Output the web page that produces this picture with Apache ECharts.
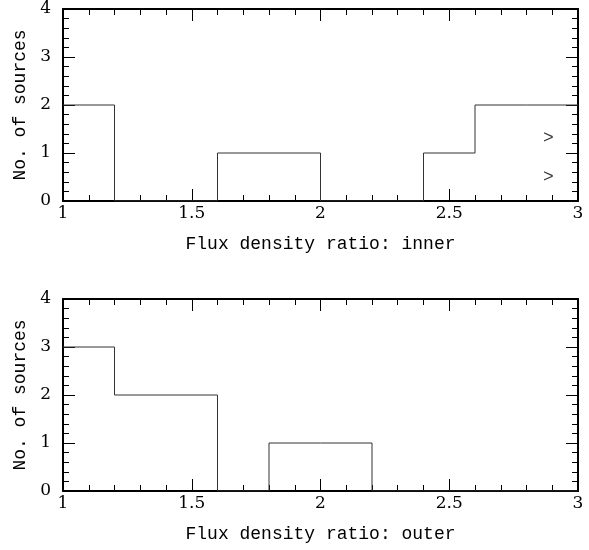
<!DOCTYPE html>
<html>
<head>
<meta charset="utf-8">
<script src="https://cdn.jsdelivr.net/npm/echarts@6/dist/echarts.min.js"></script>
<style>html,body{margin:0;padding:0;background:#fff}#c{width:589px;height:550px}</style>
</head>
<body>
<div id="c"></div>
<script>
// ---- data ----
const binEdges = [1.0, 1.2, 1.4, 1.6, 1.8, 2.0, 2.2, 2.4, 2.6, 2.8, 3.0];
const innerCounts = [2, 0, 0, 1, 1, 0, 0, 1, 2, 2];
const outerCounts = [3, 2, 2, 0, 1, 1, 0, 0, 0, 0];
const limitX = [2.885, 2.885];
const limitY = [1.30, 0.50];
const limitMark = '>';
const xTitles = ['Flux density ratio: inner', 'Flux density ratio: outer'];
const yTitle = 'No. of sources';

function stepData(counts) {
  const pts = counts.map((c, i) => [binEdges[i], c]);
  pts.push([binEdges[binEdges.length - 1], counts[counts.length - 1]]);
  return pts;
}

const tickFont = '"DejaVu Serif", serif';
const nameFont = '"Liberation Mono", monospace';
const black = '#000';

const grids = [
  { left: 63, top: 9, width: 515, height: 192 },
  { left: 63, top: 299, width: 515, height: 192 }
];

function xAx(gi, pos, showLabel, name) {
  return {
    type: 'value', gridIndex: gi, position: pos, min: 1, max: 3, interval: 0.5,
    axisLine: { show: true, onZero: false, lineStyle: { color: black, width: 2 } },
    axisTick: { show: true, inside: true, length: 12, lineStyle: { color: black, width: 1 } },
    minorTick: { show: true, splitNumber: 5, length: 6, lineStyle: { color: black, width: 1 } },
    splitLine: { show: false },
    axisLabel: { show: showLabel, margin: 4, color: black, fontFamily: tickFont, fontSize: 17 },
    name: name || '', nameLocation: 'middle', nameGap: 34,
    nameTextStyle: { color: black, fontFamily: nameFont, fontSize: 18 }
  };
}
function yAx(gi, pos, showLabel, name) {
  return {
    type: 'value', gridIndex: gi, position: pos, min: 0, max: 4, interval: 1,
    axisLine: { show: true, onZero: false, lineStyle: { color: black, width: 2 } },
    axisTick: { show: true, inside: true, length: 12, lineStyle: { color: black, width: 1 } },
    minorTick: { show: true, splitNumber: 5, length: 6, lineStyle: { color: black, width: 1 } },
    splitLine: { show: false },
    axisLabel: { show: showLabel, margin: 12, color: black, fontFamily: tickFont, fontSize: 17 },
    name: name || '', nameLocation: 'middle', nameGap: 29,
    nameTextStyle: { color: black, fontFamily: nameFont, fontSize: 18 }
  };
}

const option = {
  animation: false,
  backgroundColor: '#fff',
  grid: grids,
  xAxis: [
    xAx(0, 'bottom', true, xTitles[0]), xAx(0, 'top', false),
    xAx(1, 'bottom', true, xTitles[1]), xAx(1, 'top', false)
  ],
  yAxis: [
    yAx(0, 'left', true, yTitle), yAx(0, 'right', false),
    yAx(1, 'left', true, yTitle), yAx(1, 'right', false)
  ],
  series: [
    {
      type: 'line', xAxisIndex: 0, yAxisIndex: 0, step: 'end', showSymbol: false,
      lineStyle: { color: '#333', width: 1 }, data: stepData(innerCounts), silent: true
    },
    {
      type: 'line', xAxisIndex: 2, yAxisIndex: 2, step: 'end', showSymbol: false,
      lineStyle: { color: '#333', width: 1 }, data: stepData(outerCounts), silent: true
    },
    {
      type: 'scatter', xAxisIndex: 0, yAxisIndex: 0, symbolSize: 0, silent: true,
      data: limitX.map((x, i) => [x, limitY[i]]),
      label: { show: true, position: 'inside', formatter: limitMark, color: black,
               fontFamily: nameFont, fontSize: 18 }
    }
  ]
};

const chart = echarts.init(document.getElementById('c'), null, { renderer: 'canvas' });
chart.setOption(option);
</script>
</body>
</html>
